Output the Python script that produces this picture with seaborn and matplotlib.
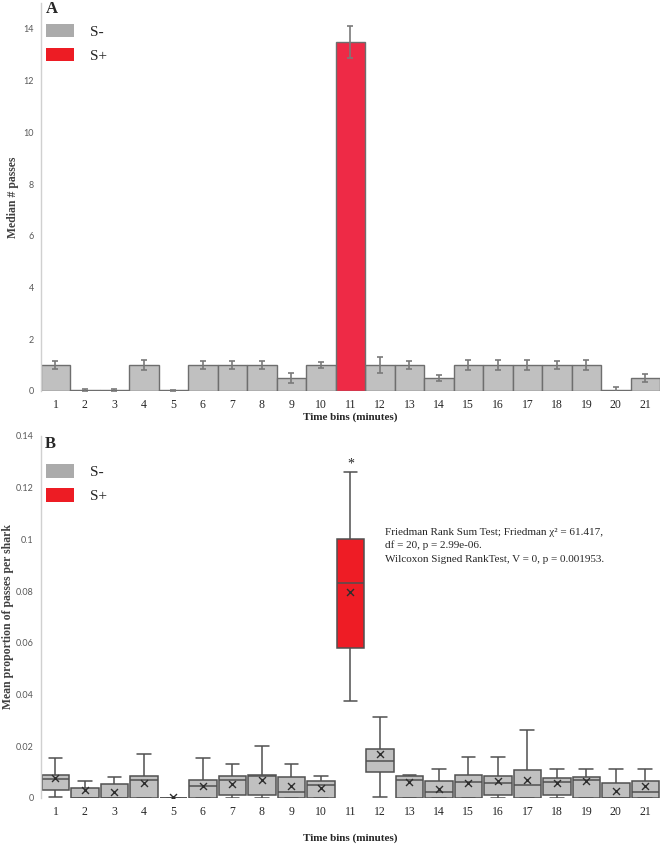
import numpy as np
import pandas as pd
import seaborn as sns
import matplotlib.pyplot as plt
from matplotlib.patches import Patch
from matplotlib.ticker import FuncFormatter, MultipleLocator

sns.set_style("white")
plt.rcParams["font.family"] = ["Liberation Serif", "DejaVu Serif"]

bins = [str(i) for i in range(1, 22)]
cond = ["S+" if b == "11" else "S-" for b in bins]

# panel A: median number of passes and error bar half-lengths
medians = [1.0, 0.02, 0.02, 1.0, 0.02, 1.0, 1.0, 1.0, 0.5, 1.0, 13.5,
           1.0, 1.0, 0.5, 1.0, 1.0, 1.0, 1.0, 1.0, 0.02, 0.5]
errs = [0.15, 0.07, 0.07, 0.2, 0.02, 0.15, 0.15, 0.16, 0.21, 0.13, 0.63,
        0.32, 0.16, 0.11, 0.2, 0.2, 0.2, 0.14, 0.18, 0.15, 0.14]

# panel B: box summaries (whisker low, q1, median, q3, whisker high) and means
w_lo = [0.0003, 0, 0, 0, 0, 0, 0, 0, 0, 0, 0.0376,
        0.0003, 0, 0, 0, 0, 0, 0, 0, 0, 0]
q1 = [0.0031, 0, 0, 0, 0, 0, 0.001, 0.001, 0, 0, 0.0579,
      0.0099, 0, 0, 0, 0.0013, 0, 0.0013, 0, 0, 0]
med = [0.0072, 0, 0, 0.007, 0, 0.0048, 0.007, 0.0085, 0.0022, 0.005, 0.083,
       0.0144, 0.007, 0.0023, 0.0062, 0.0059, 0.0049, 0.0062, 0.007, 0, 0.0023]
q3 = [0.0089, 0.004, 0.0053, 0.0086, 0, 0.007, 0.0085, 0.0089, 0.0082, 0.0067, 0.1,
      0.0188, 0.0085, 0.0066, 0.0088, 0.0084, 0.011, 0.0076, 0.0082, 0.0059, 0.0066]
w_hi = [0.0156, 0.0067, 0.008, 0.0169, 0, 0.0156, 0.0131, 0.0201, 0.0131, 0.0086, 0.1262,
        0.0313, 0.0087, 0.0113, 0.0159, 0.0159, 0.0262, 0.0113, 0.0113, 0.0113, 0.0113]
means = [0.0079, 0.0031, 0.0024, 0.0059, 0.0004, 0.0048, 0.0054, 0.007, 0.0048, 0.004, 0.0795,
         0.0169, 0.0062, 0.0035, 0.0057, 0.0064, 0.007, 0.0059, 0.0067, 0.0027, 0.0046]

stats_lines = ["Friedman Rank Sum Test; Friedman \u03c7\u00b2 = 61.417,",
               "df = 20, p = 2.99e-06.",
               "Wilcoxon Signed RankTest, V = 0, p = 0.001953."]

bar_df = pd.DataFrame({"bin": bins, "median": medians, "cond": cond})
rows = []
for i, b in enumerate(bins):
    for v in (w_lo[i], q1[i], med[i], q3[i], w_hi[i]):
        rows.append({"bin": b, "value": v, "cond": cond[i]})
box_df = pd.DataFrame(rows)
mean_df = pd.DataFrame({"bin": bins, "mean": means})

fig = plt.figure(figsize=(6.66, 8.47), dpi=100)
ax1 = fig.add_axes([0.0611, 0.5384, 0.930, 0.458])
ax2 = fig.add_axes([0.0611, 0.0579, 0.930, 0.4274])

tick_font = dict(family=["Lato", "DejaVu Sans"], size=6.5, color="#595959")


def legend_for(ax, y):
    ax.legend(handles=[Patch(facecolor="#ABABAB", edgecolor="none", label="S-"),
                       Patch(facecolor="#ED1C24", edgecolor="none", label="S+")],
              loc="upper left", bbox_to_anchor=(0.0086, y), frameon=False,
              fontsize=11, handlelength=1.83, handleheight=1.0,
              handletextpad=1.05, labelspacing=0.58, borderpad=0, borderaxespad=0)


# ---- panel A
sns.barplot(data=bar_df, x="bin", y="median", hue="cond", order=bins,
            hue_order=["S-", "S+"], palette={"S-": "#C0C0C0", "S+": "#EE2A46"},
            saturation=1, dodge=False, width=1.0, edgecolor="#6E6E6E",
            linewidth=1.0, legend=False, ax=ax1)
ax1.errorbar(np.arange(len(bins)), medians, yerr=errs, fmt="none",
             ecolor="#7A7A7A", elinewidth=1.2, capsize=2.5, capthick=1.2)
ax1.set_ylim(0, 15)
ax1.yaxis.set_major_locator(MultipleLocator(2))
ax1.set_ylabel("Median # passes", fontsize=8.5, fontweight="bold", color="#404040")
ax1.set_xlabel("Time bins (minutes)", fontsize=8, fontweight="bold", labelpad=1)
ax1.yaxis.set_label_coords(-0.035, 0.5)
legend_for(ax1, 0.947)

# ---- panel B
sns.boxplot(data=box_df, x="bin", y="value", hue="cond",
            order=bins, hue_order=["S-", "S+"],
            palette={"S-": "#C0C0C0", "S+": "#EE1C25"}, saturation=1,
            dodge=False, width=0.93, whis=np.inf, linecolor="#505050",
            linewidth=1.1, showfliers=False, legend=False, ax=ax2)
sns.stripplot(data=mean_df, x="bin", y="mean", order=bins, jitter=False,
              marker="x", color="#2E2E2E", size=5, linewidth=1.0, ax=ax2)
ax2.set_ylim(0, 0.14)
ax2.yaxis.set_major_locator(MultipleLocator(0.02))
ax2.yaxis.set_major_formatter(FuncFormatter(lambda v, p: f"{round(v, 3):g}"))
ax2.set_ylabel("Mean proportion of passes per shark", fontsize=8.5,
               fontweight="bold", color="#404040")
ax2.set_xlabel("Time bins (minutes)", fontsize=8, fontweight="bold", labelpad=11)
ax2.yaxis.set_label_coords(-0.043, 0.5)
ax2.text(10, 0.1268, "*", ha="center", va="bottom", fontsize=10)
for k, line in enumerate(stats_lines):
    ax2.text(0.556, 0.7265 - k * 0.0367, line, transform=ax2.transAxes,
             ha="left", va="baseline", fontsize=8)
legend_for(ax2, 0.922)

for ax in (ax1, ax2):
    ax.set_xlim(-0.5, len(bins) - 0.5)
    for s in ("top", "right", "bottom"):
        ax.spines[s].set_visible(False)
    ax.spines["left"].set_color("#D0D0D0")
    ax.spines["left"].set_linewidth(1.0)
    ax.tick_params(axis="both", length=0)
    ax.tick_params(axis="y", pad=5)
    ax.tick_params(axis="x", pad=6)
    for lab in ax.get_yticklabels():
        lab.set_fontfamily(tick_font["family"])
        lab.set_fontsize(tick_font["size"])
        lab.set_color(tick_font["color"])
    for lab in ax.get_xticklabels():
        lab.set_fontsize(8.5)

fig.text(46 / 666, 1 - 1 / 847, "A", fontsize=12, fontweight="bold", va="top")
fig.text(45 / 666, 1 - 436 / 847, "B", fontsize=12, fontweight="bold", va="top")

fig.savefig("out.png", dpi=100)
